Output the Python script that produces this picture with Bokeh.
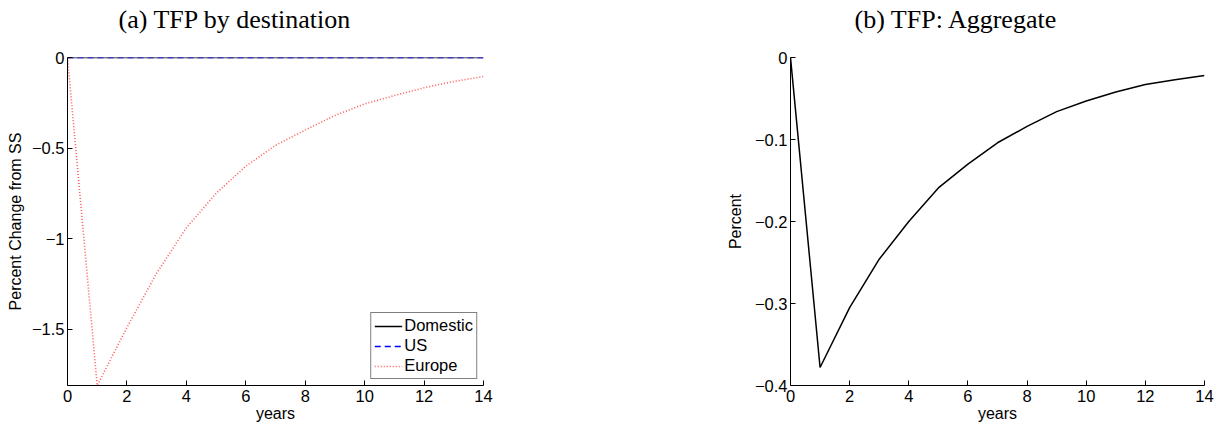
from bokeh.plotting import figure
from bokeh.models import Legend, LegendItem, FixedTicker, Range1d, Title
from bokeh.layouts import row
from bokeh.embed import file_html
from bokeh.resources import INLINE

# ---- data ----
years = list(range(15))
domestic = [0.0] * 15
us = [0.0] * 15
europe = [0.0, -1.81, -1.49, -1.19, -0.94, -0.75, -0.60, -0.485, -0.40, -0.32,
          -0.256, -0.21, -0.167, -0.132, -0.105]
aggregate = [0.0, -0.378, -0.305, -0.246, -0.200, -0.159, -0.130, -0.104, -0.084,
             -0.066, -0.053, -0.042, -0.033, -0.027, -0.022]

x_ticks = [0, 2, 4, 6, 8, 10, 12, 14]
left_ticks = [0, -0.5, -1, -1.5]
left_tick_labels = ["0", "\u22120.5", "\u22121", "\u22121.5"]
right_ticks = [0, -0.1, -0.2, -0.3, -0.4]
right_tick_labels = ["0", "\u22120.1", "\u22120.2", "\u22120.3", "\u22120.4"]

SANS = "Liberation Sans"
SERIF = "Liberation Serif"
FS = "16.5px"
LFS = "16px"
TFS = "26px"


def style(p, yticks, ylabels, ylabel, label_standoff_y):
    p.grid.visible = False
    p.outline_line_color = None
    p.background_fill_color = "white"
    p.border_fill_color = "white"
    for ax in (p.xaxis[0], p.yaxis[0]):
        ax.axis_line_color = "black"
        ax.axis_line_width = 1
        ax.major_tick_line_color = "black"
        ax.major_tick_in = 5
        ax.major_tick_out = 0
        ax.minor_tick_line_color = None
        ax.major_label_text_font = SANS
        ax.major_label_text_font_size = FS
        ax.major_label_text_color = "black"
        ax.axis_label_text_font = SANS
        ax.axis_label_text_font_size = LFS
        ax.axis_label_text_font_style = "normal"
        ax.axis_label_text_color = "black"
    p.xaxis[0].ticker = FixedTicker(ticks=x_ticks)
    p.xaxis[0].axis_label = "years"
    p.xaxis[0].major_label_standoff = 4
    p.xaxis[0].axis_label_standoff = 0
    p.yaxis[0].ticker = FixedTicker(ticks=yticks)
    p.yaxis[0].major_label_overrides = {t: l for t, l in zip(yticks, ylabels)}
    p.yaxis[0].axis_label = ylabel
    p.yaxis[0].major_label_standoff = 3
    p.yaxis[0].axis_label_standoff = label_standoff_y


def add_title(p, text, offset):
    # spacer panel (closest to the frame), then the real title above it
    p.add_layout(Title(text=" ", text_font_size="10px", standoff=9), "above")
    p.add_layout(Title(text=text, text_font=SERIF, text_font_size=TFS,
                       text_font_style="normal", align="left", offset=offset,
                       vertical_align="bottom", standoff=4, text_color="black"),
                 "above")


# ---- left panel ----
p1 = figure(width=600, height=427, output_backend="svg", toolbar_location=None,
            x_range=Range1d(0, 14), y_range=Range1d(-1.81, 0),
            min_border_left=67, min_border_right=117, min_border_top=57,
            min_border_bottom=42)
style(p1, left_ticks, left_tick_labels, "Percent Change from SS", 5)

r_dom = p1.line(years, domestic, line_color="black", line_width=1.4)
r_us = p1.line(years, us, line_color="#0000ff", line_width=1.6, line_dash="6 4")
r_eu = p1.line(years, europe, line_color="#ff3b3b", line_width=1.6,
               line_dash="1 2", line_alpha=0.85)

legend = Legend(items=[LegendItem(label="Domestic", renderers=[r_dom]),
                       LegendItem(label="US", renderers=[r_us]),
                       LegendItem(label="Europe", renderers=[r_eu])],
                location="bottom_right")
legend.label_text_font = SANS
legend.label_text_font_size = FS
legend.label_text_color = "black"
legend.glyph_width = 28
legend.glyph_height = 18
legend.label_height = 18
legend.label_standoff = 2
legend.spacing = 1
legend.padding = 3
legend.margin = 6
legend.border_line_color = "black"
legend.border_line_width = 1.5
legend.background_fill_alpha = 1
p1.add_layout(legend, "center")
add_title(p1, "(a) TFP by destination", 51)

# ---- right panel ----
p2 = figure(width=626, height=427, output_backend="svg", toolbar_location=None,
            x_range=Range1d(0, 14), y_range=Range1d(-0.4, 0),
            min_border_left=190, min_border_right=22, min_border_top=57,
            min_border_bottom=42)
style(p2, right_ticks, right_tick_labels, "Percent", 8)
p2.line(years, aggregate, line_color="black", line_width=1.5)
add_title(p2, "(b) TFP: Aggregate", 64)

layout = row(p1, p2, spacing=0)
open("out.html", "w").write(file_html(layout, INLINE))
